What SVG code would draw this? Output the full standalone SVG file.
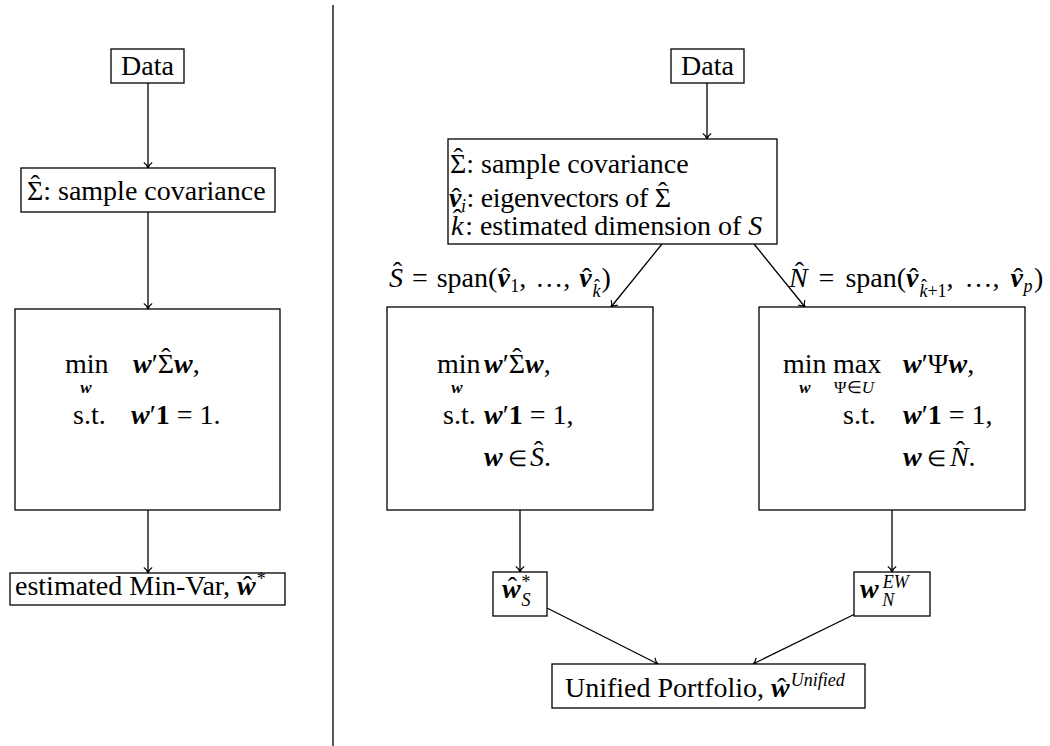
<svg xmlns="http://www.w3.org/2000/svg" width="1050" height="746" viewBox="0 0 1050 746" xml:lang="en" lang="en">
<style>
.box{fill:#fff;stroke:#000;stroke-width:1.3}
.ln{fill:none;stroke:#000;stroke-width:1.3}
.t{font-family:"Liberation Serif","Times New Roman",serif;font-size:28px;fill:#000}
.bi{font-weight:bold;font-style:italic}
.it{font-style:italic}
.up{font-weight:normal;font-style:normal}
.b{font-weight:bold}
.sm{font-size:18px}
.xs{font-size:17px}
.el{font-size:22px}
.mid{text-anchor:middle}
.ws{word-spacing:2px}
.ws4{word-spacing:4px}
</style>
<defs>
<marker id="ah" markerUnits="userSpaceOnUse" markerWidth="12" markerHeight="12" refX="0" refY="0" viewBox="-7 -6 8 12" orient="auto" overflow="visible">
<path d="M -5.5 -4.2 C -3.8 -1.6 -1.6 -0.4 0 0 C -1.6 0.4 -3.8 1.6 -5.5 4.2" fill="none" stroke="#000" stroke-width="1.2"/>
</marker>
</defs>
<rect width="1050" height="746" fill="#fff"/>
<line x1="333" y1="5" x2="333" y2="746" stroke="#000" stroke-width="1.3"/>

<g id="connectors">
<line class="ln" x1="148" y1="83" x2="148" y2="168" marker-end="url(#ah)"/>
<line class="ln" x1="148" y1="212" x2="148" y2="309" marker-end="url(#ah)"/>
<line class="ln" x1="148" y1="510" x2="148" y2="573" marker-end="url(#ah)"/>
<line class="ln" x1="707" y1="83" x2="707" y2="139" marker-end="url(#ah)"/>
<line class="ln" x1="662" y1="244" x2="611" y2="307" marker-end="url(#ah)"/>
<line class="ln" x1="754" y1="244" x2="805" y2="307" marker-end="url(#ah)"/>
<line class="ln" x1="520" y1="510" x2="520" y2="572" marker-end="url(#ah)"/>
<line class="ln" x1="892" y1="510" x2="892" y2="572" marker-end="url(#ah)"/>
<line class="ln" x1="547" y1="608" x2="658" y2="664" marker-end="url(#ah)"/>
<line class="ln" x1="855" y1="614" x2="753" y2="664" marker-end="url(#ah)"/>
</g>

<g id="data-left">
<rect class="box" x="111" y="49" width="73" height="34"/>
<text class="t mid" x="147.5" y="75">Data</text>
</g>

<g id="cov-left">
<rect class="box" x="21" y="168" width="254" height="44"/>
<text class="t" x="27" y="200">Σ:<tspan dx="-20.6" dy="-6">ˆ</tspan><tspan dx="11.2" dy="6"> sample covariance</tspan></text>
</g>

<g id="opt-left">
<rect class="box" x="15" y="309" width="265" height="201"/>
<text class="t" x="65" y="373">min</text>
<text class="t xs bi mid" x="86" y="393">w</text>
<text class="t" x="133" y="373"><tspan class="bi">w</tspan>′Σ<tspan dx="-12.8" dy="-6">ˆ</tspan><tspan class="bi" dx="3.4" dy="6">w</tspan>,</text>
<text class="t" x="73" y="424">s.t.</text>
<text class="t" x="131" y="424"><tspan class="bi">w</tspan>′<tspan class="b">1</tspan> = 1.</text>
</g>

<g id="result-left">
<rect class="box" x="10" y="573" width="275" height="32"/>
<text class="t" x="15" y="595">estimated Min-Var, <tspan class="bi">w</tspan><tspan dx="-12.9">ˆ</tspan><tspan class="sm" dx="4.5" dy="-10">*</tspan></text>
</g>

<g id="data-right">
<rect class="box" x="671" y="49" width="73" height="34"/>
<text class="t mid" x="707.5" y="75">Data</text>
</g>

<g id="cov-right">
<rect class="box" x="448" y="139" width="329" height="105"/>
<text class="t" x="450" y="173">Σ:<tspan dx="-20.6" dy="-6">ˆ</tspan><tspan dx="11.2" dy="6"> sample covariance</tspan></text>
<text class="t" x="449" y="207" letter-spacing="-0.3"><tspan class="bi">v</tspan><tspan dx="-9.6">ˆ</tspan><tspan class="sm it" dx="0.5" dy="5">i</tspan><tspan dx="-6" dy="-5"> : eigenvectors of Σ</tspan><tspan dx="-12.8" dy="-6">ˆ</tspan></text>
<text class="t" x="451" y="235"><tspan class="it">k</tspan><tspan dx="-10.6" dy="-7">ˆ</tspan><tspan dx="-4" dy="7"> : estimated dimension of </tspan><tspan class="it">S</tspan></text>
</g>

<g id="label-s">
<text class="t ws" x="389" y="287"><tspan class="it">S</tspan><tspan dx="-10.2" dy="-6">ˆ</tspan><tspan dx="0.8" dy="6"> = span(</tspan><tspan class="bi">v</tspan><tspan dx="-9.6">ˆ</tspan><tspan class="sm" dx="0.7" dy="5">1</tspan><tspan dy="-5">, …, </tspan><tspan class="bi">v</tspan><tspan dx="-9.6">ˆ</tspan><tspan class="sm it" dx="1.2" dy="10">k</tspan><tspan class="sm" dx="-6.5" dy="-5">ˆ</tspan><tspan dx="1.5" dy="-5">)</tspan></text>
</g>

<g id="label-n">
<text class="t ws4" x="789" y="287"><tspan class="it">N</tspan><tspan dx="-12.9" dy="-6">ˆ</tspan><tspan dx="3.5" dy="6"> = span(</tspan><tspan class="bi">v</tspan><tspan dx="-9.6">ˆ</tspan><tspan class="sm it" dx="1.2" dy="10">k</tspan><tspan class="sm" dx="-6.5" dy="-5">ˆ</tspan><tspan class="sm" dx="0.5" dy="5">+1</tspan><tspan dy="-10">, …, </tspan><tspan class="bi">v</tspan><tspan dx="-9.6">ˆ</tspan><tspan class="sm it" dx="0.7" dy="5">p</tspan><tspan dx="1.5" dy="-5">)</tspan></text>
</g>

<g id="opt-s">
<rect class="box" x="387" y="307" width="266" height="203"/>
<text class="t" x="437" y="373">min</text>
<text class="t xs bi mid" x="457" y="393">w</text>
<text class="t" x="484" y="373"><tspan class="bi">w</tspan>′Σ<tspan dx="-12.8" dy="-6">ˆ</tspan><tspan class="bi" dx="3.4" dy="6">w</tspan>,</text>
<text class="t" x="443" y="424">s.t.</text>
<text class="t" x="484" y="424"><tspan class="bi">w</tspan>′<tspan class="b">1</tspan> = 1,</text>
<text class="t" x="484" y="466"><tspan class="bi">w</tspan><tspan class="el" dx="5">∈</tspan></text>
<text class="t it" x="530" y="466">S<tspan class="up" dx="-10.2" dy="-6">ˆ</tspan><tspan class="up" dx="0.8" dy="6">.</tspan></text>
</g>

<g id="opt-n">
<rect class="box" x="759" y="307" width="266" height="203"/>
<text class="t" x="783" y="373">min</text>
<text class="t" x="833" y="373">max</text>
<text class="t xs bi mid" x="805" y="393">w</text>
<text class="t xs mid" x="854" y="393">Ψ∈<tspan class="it">U</tspan></text>
<text class="t" x="903" y="373"><tspan class="bi">w</tspan>′Ψ<tspan class="bi">w</tspan>,</text>
<text class="t" x="843" y="424">s.t.</text>
<text class="t" x="903" y="424"><tspan class="bi">w</tspan>′<tspan class="b">1</tspan> = 1,</text>
<text class="t" x="903" y="466"><tspan class="bi">w</tspan><tspan class="el" dx="5">∈</tspan></text>
<text class="t it" x="950" y="466">N<tspan class="up" dx="-12.9" dy="-6">ˆ</tspan><tspan class="up" dx="3.5" dy="6">.</tspan></text>
</g>

<g id="w-s">
<rect class="box" x="493" y="572" width="54" height="44"/>
<text class="t" x="502" y="598"><tspan class="bi">w</tspan><tspan dx="-12.9" dy="-2">ˆ</tspan><tspan class="sm" dx="4.5" dy="-8">*</tspan><tspan class="sm it" dx="-9" dy="18">S</tspan></text>
</g>

<g id="w-n">
<rect class="box" x="854" y="572" width="76" height="44"/>
<text class="t" x="860" y="598"><tspan class="bi">w</tspan><tspan class="sm it" dx="4" dy="-10">EW</tspan><tspan class="sm it" dx="-26.5" dy="18">N</tspan></text>
</g>

<g id="unified">
<rect class="box" x="552" y="664" width="313" height="44"/>
<text class="t" x="565" y="697">Unified Portfolio, <tspan class="bi">w</tspan><tspan dx="-12.9">ˆ</tspan><tspan class="sm it" dx="4.5" dy="-11">Unified</tspan></text>
</g>
</svg>
